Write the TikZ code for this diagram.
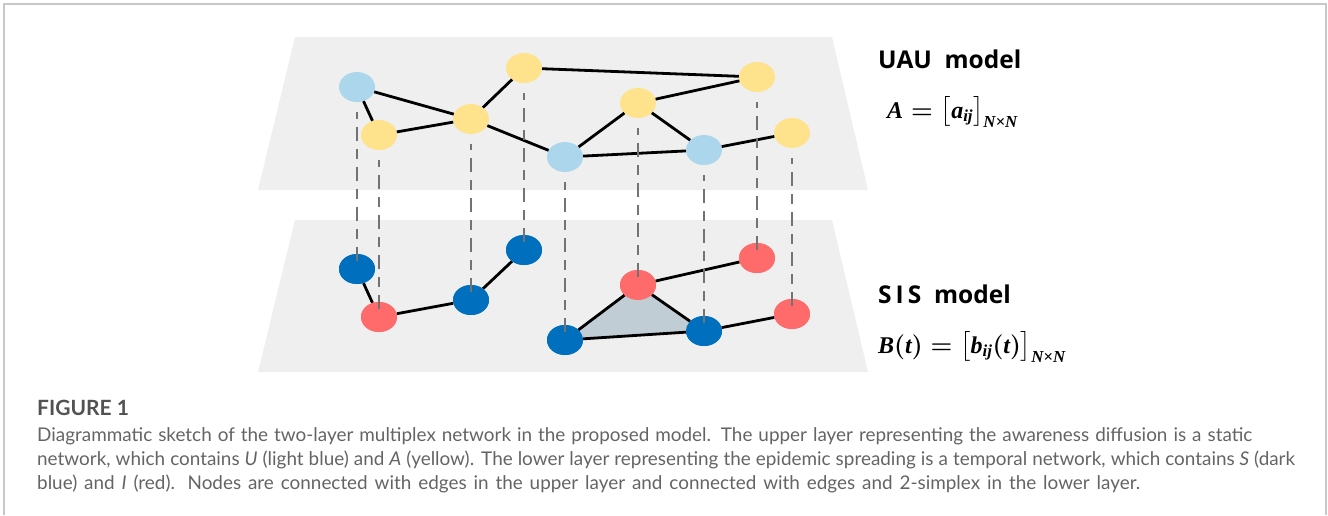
\documentclass[tikz,border=0pt]{standalone}
\usepackage{amsmath}
\usepackage{fontspec}
\setmainfont{Lato}
\newfontfamily\labfont{Open Sans}
\newfontfamily\mserif{Liberation Serif}
\usetikzlibrary{shapes.geometric}
\definecolor{lblue}{RGB}{172,214,236}
\definecolor{yel}{RGB}{255,226,140}
\definecolor{dblue}{RGB}{0,112,190}
\definecolor{redn}{RGB}{255,106,106}
\definecolor{planeg}{RGB}{239,239,239}
\definecolor{trif}{RGB}{192,205,213}
\definecolor{capg}{RGB}{100,100,100}
\definecolor{frameg}{RGB}{200,200,200}
\newcommand{\mbi}[1]{\text{\mserif\bfseries\itshape #1}}
\newcommand{\mA}{$\mbi{A}=\bigl[\mbi{a}_{\mbi{ij}}\bigr]_{\mbi{N×N}}$}
\newcommand{\mB}{$\mbi{B}(\mbi{t})=\bigl[\mbi{b}_{\mbi{ij}}(\mbi{t})\bigr]_{\mbi{N×N}}$}
\newcommand{\capline}[2]{\makebox[#1][s]{#2}}
\begin{document}
\begin{tikzpicture}[x=1pt,y=-1pt,
  nd/.style={ellipse, minimum width=36pt, minimum height=30pt, inner sep=0pt},
  ua/.style={nd, fill=lblue},
  ay/.style={nd, fill=yel},
  sb/.style={nd, fill=dblue},
  ir/.style={nd, fill=redn},
  edge/.style={line width=2.8pt, black},
  vlink/.style={draw=black!55, line width=1.3pt, dash pattern=on 14pt off 8pt on 10pt off 8pt},
  plane/.style={fill=planeg, draw=none},
  lab/.style={anchor=base west, inner sep=0pt, font=\labfont\bfseries\fontsize{24.5}{28}\selectfont},
  mth/.style={anchor=base west, inner sep=0pt, font=\boldmath\fontsize{24}{28}\selectfont},
  captxt/.style={anchor=base west, inner sep=0pt, text=capg, font=\fontsize{18.9}{22}\selectfont}
]
\useasboundingbox (0,0) rectangle (1328,515);
% frame
\draw[frameg, line width=1.5pt] (4,515) -- (4,4) -- (1326,4) -- (1326,515);
% planes
\fill[plane] (295,37) -- (832,37) -- (868,190) -- (258,190) -- cycle;
\fill[plane] (295,220) -- (832,220) -- (868,372) -- (258,372) -- cycle;
% upper nodes
\node[ua] (u1) at (357,87) {};
\node[ay] (u2) at (379,135) {};
\node[ay] (u3) at (471,119) {};
\node[ay] (u4) at (524,68) {};
\node[ay] (u5) at (757,77) {};
\node[ay] (u6) at (638,103) {};
\node[ua] (u7) at (565,157) {};
\node[ua] (u8) at (704,150) {};
\node[ay] (u9) at (792,133) {};
% upper edges
\draw[edge] (u1) -- (u2);
\draw[edge] (u1) -- (u3);
\draw[edge] (u2) -- (u3);
\draw[edge] (u3) -- (u4);
\draw[edge] (u4) -- (u5);
\draw[edge] (u3) -- (u7);
\draw[edge] (u7) -- (u6);
\draw[edge] (u6) -- (u5);
\draw[edge] (u6) -- (u8);
\draw[edge] (u7) -- (u8);
\draw[edge] (u8) -- (u9);
% lower nodes
\node[sb] (l1) at (357,269) {};
\node[ir] (l2) at (379,317) {};
\node[sb] (l3) at (471,300) {};
\node[sb] (l4) at (524,250) {};
\node[ir] (l5) at (757,258) {};
\node[ir] (l6) at (638,285) {};
\node[sb] (l7) at (565,340) {};
\node[sb] (l8) at (704,331) {};
\node[ir] (l9) at (792,314) {};
% 2-simplex
\fill[trif] (l7.center) -- (l6.center) -- (l8.center) -- cycle;
\draw[edge] (l1) -- (l2);
\draw[edge] (l2) -- (l3);
\draw[edge] (l3) -- (l4);
\draw[edge] (l6) -- (l5);
\draw[edge] (l7) -- (l6);
\draw[edge] (l6) -- (l8);
\draw[edge] (l7) -- (l8);
\draw[edge] (l8) -- (l9);
% redraw lower nodes on top of simplex
\foreach \n/\s in {l1/sb,l2/ir,l3/sb,l4/sb,l5/ir,l6/ir,l7/sb,l8/sb,l9/ir}{
  \node[\s] at (\n.center) {};
}
% inter-layer links
\foreach \i in {1,...,9}{
  \draw[vlink] ([yshift=8pt]l\i.center) -- ([yshift=-10pt]u\i.south);
}
% labels
\node[lab] (t1) at (878,68) {UAU\ \ model};
\node[mth] (m1) at (887,118) {\mA};
\node[lab] (t2) at (878,303) {S\kern4pt I\kern4pt S\ \ model};
\node[mth] (m2) at (878,353) {\mB};
% caption
\node[captxt, font=\bfseries\fontsize{21}{24}\selectfont, text=black!68] (fig) at (37,415) {FIGURE 1};
\node[captxt] (c1) at (37,441) {\capline{1215pt}{Diagrammatic sketch of the two-layer multiplex network in the proposed model. The upper layer representing the awareness diffusion is a static}};
\node[captxt] (c2) at (37,465) {\capline{1258pt}{network, which contains \textit{U} (light blue) and \textit{A} (yellow). The lower layer representing the epidemic spreading is a temporal network, which contains \textit{S} (dark}};
\node[captxt] (c3) at (37,489) {\capline{1103pt}{blue) and \textit{I} (red). Nodes are connected with edges in the upper layer and connected with edges and 2-simplex in the lower layer.}};
\end{tikzpicture}
\end{document}
